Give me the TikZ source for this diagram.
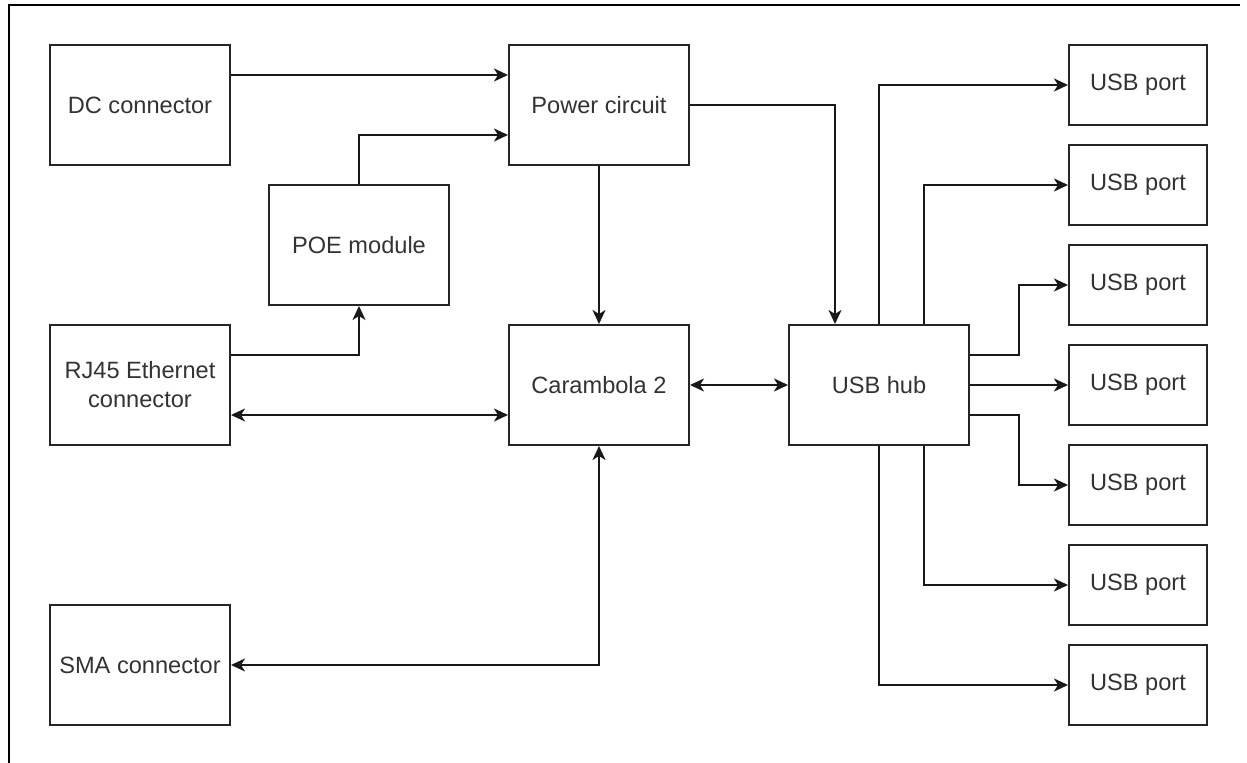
\documentclass[tikz,border=0pt]{standalone}
\usepackage{fontspec}
\setmainfont{Liberation Sans}
\usetikzlibrary{arrows.meta}

\tikzset{
	block/.style={draw=black!85,line width=1pt,minimum width=90pt,minimum height=60pt,
		inner sep=0pt,align=center,text=black!80,font=\fontsize{11.8}{14.5}\selectfont},
	port/.style={block,minimum width=69pt,minimum height=40pt},
	tip/.tip={Stealth[length=7pt,width=6.5pt,inset=2pt]},
	link/.style={line width=1pt,draw=black!90,-tip},
	twoway/.style={link,tip-tip}
}

\begin{document}
\begin{tikzpicture}[x=0.5pt,y=-0.5pt]
		\useasboundingbox (0,0) rectangle (1247,763);
		\draw[line width=1pt] (9,763) -- (9,5) -- (1240,5);

		\node[block] (dc) at (140,105) {DC connector};
		\node[block] (pwr) at (599,105) {Power circuit};
		\node[block] (poe) at (359,245) {POE module};
		\node[block] (rj) at (140,385) {RJ45 Ethernet\\connector};
		\node[block] (car) at (599,385) {Carambola 2};
		\node[block] (hub) at (879,385) {USB hub};
		\node[block] (sma) at (140,665) {SMA connector};
		\foreach \i/\y in {1/85,2/185,3/285,4/385,5/485,6/585,7/685}
			\node[port] (usb\i) at (1138,\y) {USB port};

		\draw[link] ([yshift=15pt]dc.east) -- ([yshift=15pt]pwr.west);
		\draw[link] (poe.north) |- ([yshift=-15pt]pwr.west);
		\draw[link] (pwr.east) -| ([xshift=-22pt]hub.north);
		\draw[link] (pwr) -- (car);
		\draw[link] ([yshift=15pt]rj.east) -| (poe.south);
		\draw[twoway] ([yshift=-15pt]rj.east) -- ([yshift=-15pt]car.west);
		\draw[twoway] (car) -- (hub);
		\draw[twoway] (car.south) |- (sma.east);

		\draw[link] (hub.north) |- (usb1.west);
		\draw[link] ([xshift=22.5pt]hub.north) |- (usb2.west);
		\draw[link] ([yshift=15pt]hub.east) -- ++(24.5pt,0) |- (usb3.west);
		\draw[link] (hub) -- (usb4);
		\draw[link] ([yshift=-15pt]hub.east) -- ++(24.5pt,0) |- (usb5.west);
		\draw[link] ([xshift=22.5pt]hub.south) |- (usb6.west);
		\draw[link] (hub.south) |- (usb7.west);
	\end{tikzpicture}
\end{document}
